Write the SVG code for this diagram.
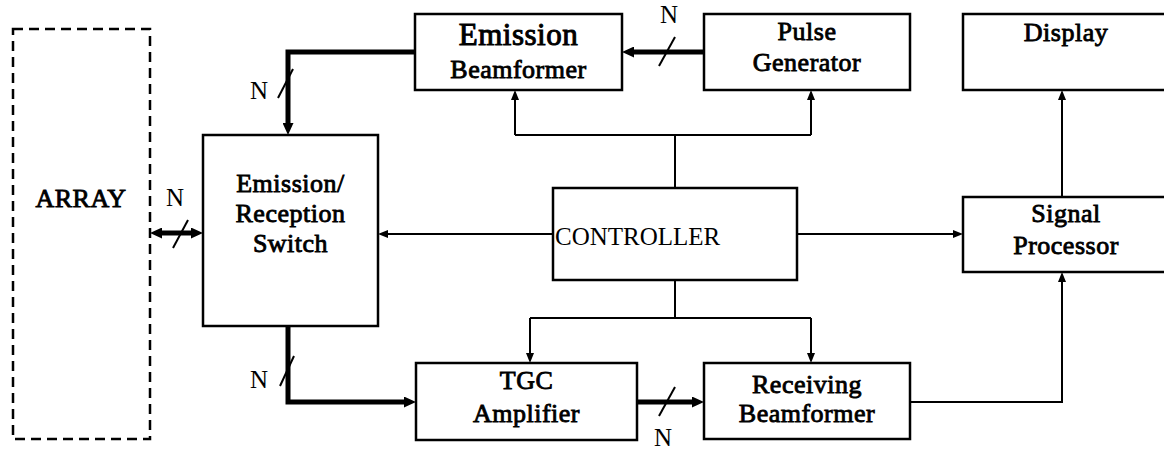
<svg xmlns="http://www.w3.org/2000/svg" width="1164" height="449" viewBox="0 0 1164 449" font-family="'Liberation Serif', 'Times New Roman', serif">
<style>
.box{fill:#fff;stroke:#000;stroke-width:2.5}
.dash{fill:none;stroke:#000;stroke-width:2.5;stroke-dasharray:10 6}
.lbl{font-family:'Liberation Serif','Times New Roman',serif;font-weight:normal;font-size:26px;text-anchor:middle;fill:#000;stroke:#000;stroke-width:0.85;letter-spacing:0.5px}
.reg{font-size:25px;fill:#000}
.thin{fill:none;stroke:#000;stroke-width:2}
.thick{fill:none;stroke:#000;stroke-width:5}
.slash{stroke:#000;stroke-width:2}
</style>
<defs>
<marker id="a" markerUnits="userSpaceOnUse" markerWidth="10" markerHeight="8" refX="0" refY="4" orient="auto"><path d="M0,0 L10,4 L0,8 z" fill="#000"/></marker>
<marker id="b" markerUnits="userSpaceOnUse" markerWidth="12" markerHeight="11" refX="0" refY="5.5" orient="auto"><path d="M0,0 L12,5.5 L0,11 z" fill="#000"/></marker>
<marker id="bs" markerUnits="userSpaceOnUse" markerWidth="12" markerHeight="11" refX="0" refY="5.5" orient="auto-start-reverse"><path d="M0,0 L12,5.5 L0,11 z" fill="#000"/></marker>
</defs>
<g id="connectors">
<path class="thick" d="M415,52 H288 V123" marker-end="url(#b)"/>
<path class="thick" d="M704,52 H634" marker-end="url(#b)"/>
<path class="thin" d="M675,188 V135 M515,135 H811"/>
<path class="thin" d="M515,135 V100" marker-end="url(#a)"/>
<path class="thin" d="M811,135 V100" marker-end="url(#a)"/>
<path class="thin" d="M553,234 H388" marker-end="url(#a)"/>
<path class="thin" d="M797,234 H953" marker-end="url(#a)"/>
<path class="thin" d="M675,280 V318 M530,318 H811"/>
<path class="thin" d="M530,318 V353" marker-end="url(#a)"/>
<path class="thin" d="M811,318 V353" marker-end="url(#a)"/>
<path class="thin" d="M1062,197 V100" marker-end="url(#a)"/>
<path class="thin" d="M910,402 H1062 V282" marker-end="url(#a)"/>
<path class="thick" d="M288,326 V402 H404" marker-end="url(#b)"/>
<path class="thick" d="M637,402 H692" marker-end="url(#b)"/>
<path class="thick" d="M162,233 H191" marker-start="url(#bs)" marker-end="url(#b)"/>
<line class="slash" x1="278" y1="98" x2="293" y2="69"/>
<line class="slash" x1="659" y1="66" x2="675" y2="37"/>
<line class="slash" x1="280" y1="386" x2="294" y2="356"/>
<line class="slash" x1="659" y1="416" x2="675" y2="387"/>
<line class="slash" x1="173" y1="248" x2="188" y2="220"/>
<text class="reg" x="259" y="99" text-anchor="middle">N</text>
<text class="reg" x="669" y="23" text-anchor="middle">N</text>
<text class="reg" x="259" y="388" text-anchor="middle">N</text>
<text class="reg" x="663" y="446" text-anchor="middle">N</text>
<text class="reg" x="175" y="206" text-anchor="middle">N</text>
</g>
<g id="array">
<rect class="dash" x="13" y="29" width="137" height="410"/>
<text class="lbl" x="81" y="207">ARRAY</text>
</g>
<g id="switch">
<rect class="box" x="203" y="135" width="175" height="191"/>
<text class="lbl" x="290.5" y="192">Emission/</text>
<text class="lbl" x="290.5" y="222">Reception</text>
<text class="lbl" x="290.5" y="252">Switch</text>
</g>
<g id="emission-beamformer">
<rect class="box" x="415" y="14" width="207" height="76"/>
<text class="lbl" x="518.5" y="45" style="font-size:31px;stroke-width:1">Emission</text>
<text class="lbl" x="518.5" y="78">Beamformer</text>
</g>
<g id="pulse-generator">
<rect class="box" x="704" y="14" width="206" height="76"/>
<text class="lbl" x="807" y="40">Pulse</text>
<text class="lbl" x="807" y="71">Generator</text>
</g>
<g id="display">
<rect class="box" x="963" y="14" width="210" height="76"/>
<text class="lbl" x="1066" y="41">Display</text>
</g>
<g id="controller">
<rect class="box" x="553" y="188" width="244" height="92"/>
<text class="reg" x="555" y="245">CONTROLLER</text>
</g>
<g id="signal-processor">
<rect class="box" x="963" y="197" width="210" height="75"/>
<text class="lbl" x="1066" y="222">Signal</text>
<text class="lbl" x="1066" y="254">Processor</text>
</g>
<g id="tgc-amplifier">
<rect class="box" x="416" y="363" width="221" height="77"/>
<text class="lbl" x="526.5" y="389">TGC</text>
<text class="lbl" x="526.5" y="422">Amplifier</text>
</g>
<g id="receiving-beamformer">
<rect class="box" x="704" y="363" width="206" height="76"/>
<text class="lbl" x="807" y="393">Receiving</text>
<text class="lbl" x="807" y="422">Beamformer</text>
</g>
</svg>
